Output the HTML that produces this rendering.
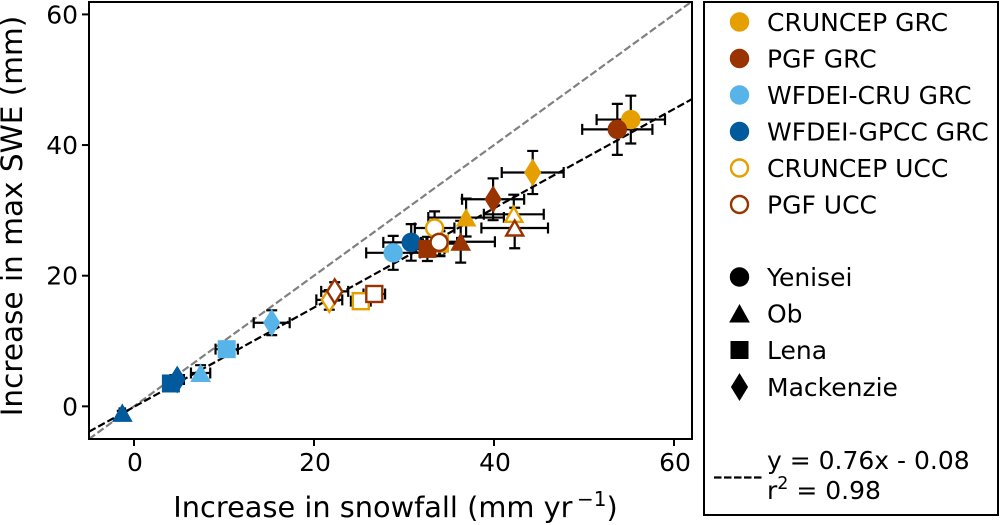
<!DOCTYPE html>
<html lang="en">
<head>
<meta charset="utf-8">
<title>Snowfall versus max SWE</title>
<style>
html,body{margin:0;padding:0;background:#fff;width:1000px;height:525px;overflow:hidden}
svg{display:block}
text{font-family:"DejaVu Sans","Liberation Sans",sans-serif;fill:#000}
</style>
</head>
<body>
<svg id="chart" width="1000" height="525" viewBox="0 0 1000 525" xmlns="http://www.w3.org/2000/svg">
  <rect x="704" y="2" width="294" height="513" fill="#fff" stroke="#000" stroke-width="2"/>
  <text x="395.5" y="517" text-anchor="middle" font-size="28.8">Increase in snowfall (mm yr<tspan dx="4.5" dy="-11" font-size="20">−1</tspan><tspan dy="11">)</tspan></text>
  <text transform="translate(22,216) rotate(-90)" text-anchor="middle" font-size="29.5">Increase in max SWE (mm)</text>
  <g id="plot"></g>
  <g id="legend"></g>
  <line x1="714" y1="477.5" x2="764" y2="477.5" stroke="#000" stroke-width="2.2" stroke-dasharray="7.5 2.5"/>
  <text x="767" y="469" font-size="25">y = 0.76x - 0.08</text>
  <text x="767" y="499" font-size="25">r<tspan dy="-10" font-size="17.5">2</tspan><tspan dy="10"> = 0.98</tspan></text>
  <rect x="89" y="2" width="603" height="437" fill="none" stroke="#000" stroke-width="2"/>
</svg>
<script>
// Data. Rows follow seriesNames; columns follow riverNames.
const seriesNames = ["WFDEI-GPCC GRC", "WFDEI-CRU GRC", "CRUNCEP GRC", "PGF GRC", "CRUNCEP UCC", "PGF UCC"];
const riverNames = ["Yenisei", "Ob", "Lena", "Mackenzie"];
const snowfall = [
  [30.8, -1.3, 4.1, 4.8],
  [28.8, 7.4, 10.3, 15.3],
  [55.2, 36.9, 34.0, 44.3],
  [53.7, 36.3, 32.6, 39.9],
  [33.4, 42.2, 25.2, 21.7],
  [33.9, 42.3, 26.7, 22.3]
];
const maxSwe = [
  [25.1, -1.0, 3.5, 4.1],
  [23.5, 5.1, 8.75, 12.8],
  [43.9, 28.9, 24.9, 35.8],
  [42.4, 25.2, 24.1, 31.7],
  [27.3, 29.4, 16.1, 16.3],
  [25.1, 27.3, 17.2, 17.6]
];
const snowfallError = [
  [3.1, 0.3, 0.6, 0.75],
  [3.0, 1.07, 1.24, 2.0],
  [3.8, 4.2, 1.9, 3.44],
  [3.9, 3.8, 1.9, 3.45],
  [2.2, 3.33, 1.1, 1.44],
  [2.0, 3.7, 1.2, 1.5]
];
const sweError = [
  [2.8, 0.3, 0.6, 0.7],
  [2.6, 1.2, 1.0, 1.9],
  [3.66, 2.9, 1.9, 3.3],
  [3.9, 3.2, 1.85, 3.2],
  [2.55, 3.0, 1.0, 1.5],
  [2.0, 3.1, 1.0, 1.4]
];
const xTicks = [0, 20, 40, 60];
const yTicks = [0, 20, 40, 60];
const xDomain = [-5, 62];
const yDomain = [-5, 61.9];
const fitSlope = 0.76;
const fitIntercept = -0.08;

const seriesColors = ["#005A9C", "#56B4E9", "#E69F00", "#993300", "#E69F00", "#993300"];
const seriesOpen = [false, false, false, false, true, true];
const legendOrder = ["CRUNCEP GRC", "PGF GRC", "WFDEI-CRU GRC", "WFDEI-GPCC GRC", "CRUNCEP UCC", "PGF UCC"];

const NS = "http://www.w3.org/2000/svg";
const plot = document.getElementById("plot");
const legend = document.getElementById("legend");
const xScale = v => 89 + (v - xDomain[0]) * 603 / (xDomain[1] - xDomain[0]);
const yScale = v => 439 - (v - yDomain[0]) * 437 / (yDomain[1] - yDomain[0]);
const slug = s => s.toLowerCase().replace(/[^a-z0-9]+/g, "-");

function make(tag, attrs, parent) {
  const el = document.createElementNS(NS, tag);
  for (const k in attrs) el.setAttribute(k, attrs[k]);
  parent.appendChild(el);
  return el;
}

function markerShape(river, cx, cy, color, open, parent) {
  const fill = open ? "#fff" : color;
  const sw = open ? 2.4 : 1;
  const style = { fill: fill, stroke: color, "stroke-width": sw, "stroke-linejoin": "miter" };
  if (river === "Yenisei") {
    return make("circle", Object.assign({ cx: cx, cy: cy, r: open ? 8.5 : 9.2 }, style), parent);
  }
  if (river === "Ob") {
    const h = open ? 7.5 : 8.5;
    const points = (cx) + "," + (cy - h) + " " + (cx + h + 1) + "," + (cy + h) + " " + (cx - h - 1) + "," + (cy + h);
    return make("polygon", Object.assign({ points: points }, style), parent);
  }
  if (river === "Lena") {
    const h = open ? 8 : 8.5;
    return make("rect", Object.assign({ x: cx - h, y: cy - h, width: 2 * h, height: 2 * h }, style), parent);
  }
  const w = open ? 7.5 : 8;
  const h = open ? 12 : 13;
  const points = cx + "," + (cy - h) + " " + (cx + w) + "," + cy + " " + cx + "," + (cy + h) + " " + (cx - w) + "," + cy;
  return make("polygon", Object.assign({ points: points }, style), parent);
}

// axis ticks
xTicks.forEach(t => {
  const x = xScale(t);
  const tick = make("line", { x1: x, y1: 439, x2: x, y2: 446, stroke: "#000", "stroke-width": 2 }, plot);
  
  
  const label = make("text", { x: x + 1, y: 471, "text-anchor": "middle", "font-size": 25 }, plot);
  label.textContent = t;
  
  
});
yTicks.forEach(t => {
  const y = yScale(t);
  const tick = make("line", { x1: 82, y1: y, x2: 89, y2: y, stroke: "#000", "stroke-width": 2 }, plot);
  
  
  const label = make("text", { x: 78, y: y + 9, "text-anchor": "end", "font-size": 25 }, plot);
  label.textContent = t;
  
  
});

// reference lines
const oneToOne = make("line", {
  x1: xScale(xDomain[0]), y1: yScale(xDomain[0]),
  x2: xScale(yDomain[1]), y2: yScale(yDomain[1]),
  stroke: "#808080", "stroke-width": 2.2, "stroke-dasharray": "7.5 3"
}, plot);


const fit = make("line", {
  x1: xScale(xDomain[0]), y1: yScale(fitSlope * xDomain[0] + fitIntercept),
  x2: xScale(xDomain[1]), y2: yScale(fitSlope * xDomain[1] + fitIntercept),
  stroke: "#000", "stroke-width": 2.2, "stroke-dasharray": "7.5 3"
}, plot);



// error bars, below all markers
seriesNames.forEach((name, s) => {
  riverNames.forEach((river, r) => {
    const x = snowfall[s][r], y = maxSwe[s][r];
    const px = xScale(x), py = yScale(y);
    const xa = xScale(x - snowfallError[s][r]), xb = xScale(x + snowfallError[s][r]);
    const ya = yScale(y - sweError[s][r]), yb = yScale(y + sweError[s][r]);
    const d = "M" + xa + " " + py + "H" + xb +
      "M" + xa + " " + (py - 5.5) + "V" + (py + 5.5) +
      "M" + xb + " " + (py - 5.5) + "V" + (py + 5.5) +
      "M" + px + " " + ya + "V" + yb +
      "M" + (px - 5.5) + " " + ya + "H" + (px + 5.5) +
      "M" + (px - 5.5) + " " + yb + "H" + (px + 5.5);
    const err = make("path", { d: d, fill: "none", stroke: "#000", "stroke-width": 2.2 }, plot);
    
    
  });
});

// markers
seriesNames.forEach((name, s) => {
  riverNames.forEach((river, r) => {
    const m = markerShape(river, xScale(snowfall[s][r]), yScale(maxSwe[s][r]), seriesColors[s], seriesOpen[s], plot);
    
    
  });
});

// legend: forcing datasets
const legendSeriesY = [22, 58.5, 95, 131.5, 168, 204.5];
legendOrder.forEach((name, i) => {
  const s = seriesNames.indexOf(name);
  const y = legendSeriesY[i];
  const key = markerShape("Yenisei", 739.5, y, seriesColors[s], seriesOpen[s], legend);
  
  
  const label = make("text", { x: 767, y: y + 9, "font-size": 25 }, legend);
  label.textContent = name;
  
  
});

// legend: river basins
const legendRiverY = [277, 313.5, 350, 387];
riverNames.forEach((river, i) => {
  const y = legendRiverY[i];
  const key = markerShape(river, 739.5, y, "#000", false, legend);
  
  
  const label = make("text", { x: 767, y: y + 9, "font-size": 25 }, legend);
  label.textContent = river;
  
  
});
</script>
</body>
</html>
